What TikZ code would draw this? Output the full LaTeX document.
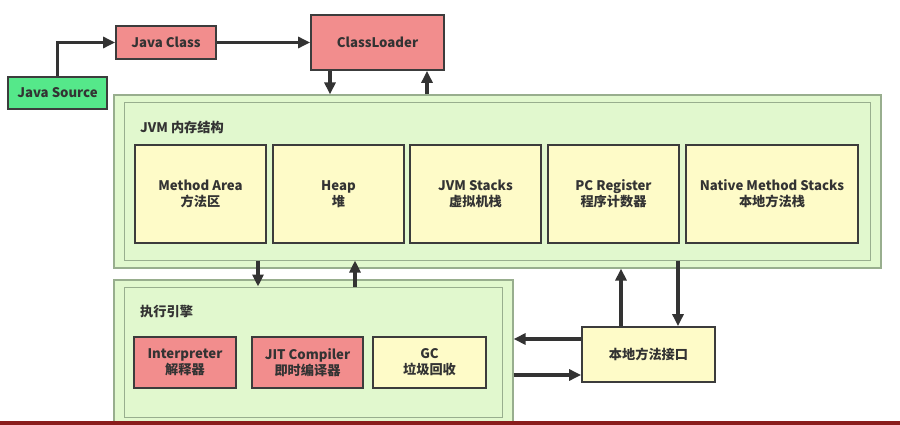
\documentclass[tikz,border=0pt]{standalone}
\usepackage{fontspec}
\setmainfont{Noto Sans CJK SC}
\usetikzlibrary{arrows.meta}
\definecolor{srcgreen}{HTML}{55E88A}
\definecolor{boxred}{HTML}{F28D8D}
\definecolor{boxyellow}{HTML}{FEFBC8}
\definecolor{areagreen}{HTML}{E1F8CE}
\definecolor{areaedge}{HTML}{98AE8E}
\definecolor{edgegray}{HTML}{3C3C3C}
\definecolor{txt}{HTML}{333333}
\definecolor{barred}{HTML}{8A1C1C}
\begin{document}
\begin{tikzpicture}[x=1pt,y=-1pt,
  box/.style={draw=edgegray, line width=1.8pt, inner sep=0pt, align=center,
    font=\fontsize{13.2}{16}\selectfont\bfseries, text=txt},
  area/.style={draw=areaedge, line width=1.2pt, fill=areagreen, inner sep=0pt},
  inarea/.style={draw=areaedge, line width=1pt, inner sep=0pt},
  title/.style={font=\fontsize{13.2}{16}\selectfont\bfseries, text=txt, anchor=west, inner sep=0pt},
  arr/.style={draw=txt, line width=3.2pt, -{Triangle[length=12pt,width=11pt]}}
]
\useasboundingbox (0,0) rectangle (900,425);
\fill[white] (0,0) rectangle (900,425);
\begin{scope}
\clip (0,0) rectangle (900,421);
% top row
\node[box, fill=srcgreen, minimum width=99pt, minimum height=32pt] (src) at (57.5,93) {Java Source};
\node[box, fill=boxred, minimum width=100pt, minimum height=33pt] (jc) at (166,42.5) {Java Class};
\node[box, fill=boxred, minimum width=133pt, minimum height=55pt] (cl) at (377.5,42.5) {ClassLoader};
% JVM memory area
\node[area, minimum width=767pt, minimum height=173pt] (jvmout) at (497.5,181.5) {};
\node[inarea, minimum width=746pt, minimum height=157pt] (jvmin) at (497,181.5) {};
\node[title] (jvmtitle) at (140,127) {JVM 内存结构};
\node[box, fill=boxyellow, minimum width=131pt, minimum height=98pt] (ma) at (200.5,194) {Method Area\\方法区};
\node[box, fill=boxyellow, minimum width=131pt, minimum height=98pt] (heap) at (338.5,194) {Heap\\堆};
\node[box, fill=boxyellow, minimum width=131pt, minimum height=98pt] (stk) at (475.5,194) {JVM Stacks\\虚拟机栈};
\node[box, fill=boxyellow, minimum width=131pt, minimum height=98pt] (pc) at (613.5,194) {PC Register\\程序计数器};
\node[box, fill=boxyellow, minimum width=172pt, minimum height=98pt] (nat) at (772,194) {Native Method Stacks\\本地方法栈};
% execution engine
\node[area, minimum width=399pt, minimum height=160pt] (engout) at (313.5,360) {};
\node[inarea, minimum width=378pt, minimum height=130pt] (engin) at (313,352) {};
\node[title] (engtitle) at (140,312) {执行引擎};
\node[box, fill=boxred, minimum width=102pt, minimum height=51pt] (interp) at (185,362.5) {Interpreter\\解释器};
\node[box, fill=boxred, minimum width=111pt, minimum height=51pt] (jit) at (307.5,362.5) {JIT Compiler\\即时编译器};
\node[box, fill=boxyellow, minimum width=113pt, minimum height=51pt] (gc) at (429.5,362.5) {GC\\垃圾回收};
% native interface
\node[box, fill=boxyellow, minimum width=133pt, minimum height=55pt] (nif) at (648.5,354.5) {本地方法接口};
% helper x / y positions
\coordinate (xa) at (330,0);
\coordinate (xb) at (427,0);
\coordinate (xc) at (258,0);
\coordinate (xd) at (355,0);
\coordinate (xe) at (621,0);
\coordinate (xf) at (678,0);
\coordinate (ya) at (0,339);
\coordinate (yb) at (0,375);
% connectors
\draw[arr] (src.north) |- (jc.west);
\draw[arr] (jc.east) -- (cl.west);
\draw[arr] (cl.south -| xa) -- (jvmout.north -| xa);
\draw[arr] (jvmout.north -| xb) -- (cl.south -| xb);
\draw[arr] (jvmin.south -| xc) -- (engin.north -| xc);
\draw[arr] (engin.north -| xd) -- (jvmin.south -| xd);
\draw[arr] (nif.north -| xe) -- (jvmout.south -| xe);
\draw[arr] (jvmin.south -| xf) -- (nif.north -| xf);
\draw[arr] (nif.west |- ya) -- (engout.east |- ya);
\draw[arr] (engout.east |- yb) -- (nif.west |- yb);
\end{scope}
\fill[barred] (0,421) rectangle (900,425);
\end{tikzpicture}
\end{document}
